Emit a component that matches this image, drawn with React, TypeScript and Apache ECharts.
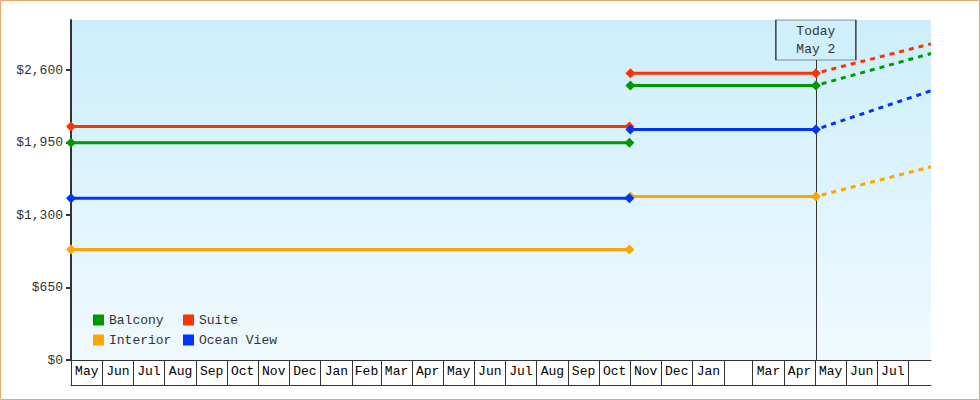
import React, { useEffect, useRef } from "react";
import * as echarts from "echarts";

// ---- data ----
const seriesNames = ["Balcony", "Suite", "Interior", "Ocean View"];
const priorStart = "2021-05-01";
const priorEnd = "2022-10-31";
const currentStart = "2022-11-01";
const todayDate = "2023-05-02";
const projectionEnd = "2023-08-23";
const priorPrices = [1949, 2095, 992, 1450];
const currentPrices = [2463, 2573, 1467, 2068];
const projectedPrices = [2749, 2836, 1733, 2415];
const yTicks = [0, 650, 1300, 1950, 2600];
const monthLabels = [
  "May", "Jun", "Jul", "Aug", "Sep", "Oct", "Nov", "Dec",
  "Jan", "Feb", "Mar", "Apr", "May", "Jun", "Jul", "Aug", "Sep", "Oct", "Nov", "Dec",
  "Jan", "", "Mar", "Apr", "May", "Jun", "Jul", "",
];
const todayLabel = "Today\nMay 2";

// ---- styles ----
const COLORS = ["#009900", "#FF3300", "#FFA500", "#0033FF"];
const FONT = "Liberation Mono";
const INK = "#333333";

function parse(s: string) {
  const [y, m, d] = s.split("-").map(Number);
  return Date.UTC(y, m - 1, d);
}
const ORIGIN = parse(priorStart);
function dayOf(s: string) {
  return Math.round((parse(s) - ORIGIN) / 86400000);
}

export default function App() {
  const ref = useRef<HTMLDivElement>(null);
  useEffect(() => {
    if (!ref.current) return;
    const chart = echarts.init(ref.current, undefined, { renderer: "svg" });

    const xMin = 0;
    const xMax = dayOf(projectionEnd);
    const today = dayOf(todayDate);
    const yMax = 3050;

    // month boundaries
    const startD = new Date(ORIGIN);
    const monthStarts: number[] = [];
    for (let i = 0; i < monthLabels.length; i++) {
      const t = Date.UTC(startD.getUTCFullYear(), startD.getUTCMonth() + i, 1);
      monthStarts.push(Math.round((t - ORIGIN) / 86400000));
    }
    const mids: number[] = monthStarts.map((s, i) => {
      const e = i + 1 < monthStarts.length ? monthStarts[i + 1] : xMax;
      return (s + e) / 2;
    });
    const labelFor = (v: number) => {
      for (let i = 0; i < mids.length; i++) if (Math.abs(mids[i] - v) < 0.01) return monthLabels[i];
      return "";
    };

    const series: any[] = [];
    seriesNames.forEach((name, i) => {
      series.push({
        name,
        type: "line",
        xAxisIndex: 0,
        symbol: "diamond",
        symbolSize: 10,
        showSymbol: true,
        itemStyle: { color: COLORS[i] },
        lineStyle: { color: COLORS[i], width: 3 },
        connectNulls: false,
        z: 3 + i,
        data: [
          [dayOf(priorStart), priorPrices[i]],
          [dayOf(priorEnd), priorPrices[i]],
          [dayOf(priorEnd) + 0.5, "-"],
          [dayOf(currentStart), currentPrices[i]],
          [today, currentPrices[i]],
        ],
        ...(i === 0
          ? {
              markLine: {
                silent: true,
                symbol: "none",
                label: { show: false },
                lineStyle: { color: INK, width: 1, type: "solid" },
                data: [{ xAxis: today }],
                z: 1,
              },
            }
          : {}),
      });
      series.push({
        name,
        type: "line",
        xAxisIndex: 0,
        symbol: "none",
        itemStyle: { color: COLORS[i] },
        lineStyle: { color: COLORS[i], width: 3, type: [5, 5], dashOffset: -6 },
        z: 2,
        data: [
          [today, currentPrices[i]],
          [xMax, projectedPrices[i]],
        ],
      });
    });
    series.push({
      name: "__today",
      type: "line",
      data: [],
      z: 10,
      markPoint: {
        silent: true,
        data: [
          {
            coord: [today, yMax],
            symbol: "rect",
            symbolSize: [80, 40],
            symbolOffset: [0, 20],
            itemStyle: { color: "#CEEFFB", borderColor: INK, borderWidth: 1 },
            label: {
              show: true,
              position: "inside",
              formatter: todayLabel,
              color: INK,
              fontFamily: FONT,
              fontSize: 13,
              lineHeight: 18,
            },
          },
        ],
      },
    });

    chart.setOption({
      animation: false,
      backgroundColor: "#ffffff",
      graphic: [
        {
          type: "rect",
          shape: { x: 0.5, y: 0.5, width: 979, height: 399 },
          style: { fill: "none", stroke: "#E8A96B", lineWidth: 1 },
          silent: true,
          z: 100,
        },
      ],
      grid: {
        left: 71,
        right: 49,
        top: 20,
        bottom: 40,
        show: true,
        borderWidth: 0,
        backgroundColor: {
          type: "linear",
          x: 0,
          y: 0,
          x2: 0,
          y2: 1,
          colorStops: [
            { offset: 0, color: "#CCEEFB" },
            { offset: 1, color: "#F0FAFE" },
          ],
        },
      },
      legend: {
        data: seriesNames,
        left: 93,
        top: 312,
        width: 210,
        padding: 0,
        itemGap: 4,
        itemWidth: 11,
        itemHeight: 11,
        icon: "rect",
        selectedMode: false,
        textStyle: { fontFamily: FONT, fontSize: 13, color: INK, width: 70, lineHeight: 16 },
      },
      xAxis: [
        {
          type: "value",
          min: xMin,
          max: xMax,
          position: "bottom",
          splitLine: { show: false },
          axisLine: { show: true, lineStyle: { color: INK, width: 1 } },
          axisTick: {
            show: true,
            inside: false,
            length: 25,
            customValues: monthStarts,
            lineStyle: { color: INK, width: 1 },
          },
          axisLabel: {
            show: true,
            customValues: mids,
            formatter: (v: number) => labelFor(v),
            margin: 5,
            color: "#000",
            fontFamily: FONT,
            fontSize: 13,
          },
        },
        {
          type: "value",
          min: xMin,
          max: xMax,
          position: "bottom",
          offset: 25,
          splitLine: { show: false },
          axisLine: { show: true, lineStyle: { color: INK, width: 1 } },
          axisTick: { show: false },
          axisLabel: { show: false },
        },
      ],
      yAxis: {
        type: "value",
        min: 0,
        max: yMax,
        splitLine: { show: false },
        axisLine: { show: true, lineStyle: { color: INK, width: 2 } },
        axisTick: { show: true, length: 5, customValues: yTicks, lineStyle: { color: INK, width: 2 } },
        axisLabel: {
          customValues: yTicks,
          margin: 8,
          color: INK,
          fontFamily: FONT,
          fontSize: 13,
          formatter: (v: number) => "$" + v.toLocaleString("en-US"),
        },
      },
      series,
    });
    return () => chart.dispose();
  }, []);
  return (
    <div
      ref={ref}
      style={{ position: "absolute", left: 0, top: 0, width: 980, height: 400 }}
    />
  );
}
